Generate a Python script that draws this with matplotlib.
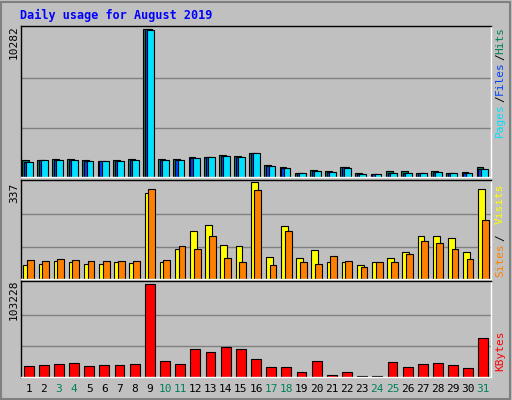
import matplotlib
matplotlib.use("Agg")
import matplotlib.pyplot as plt
from matplotlib.patches import Rectangle

days = list(range(1, 32))
weekend = [3, 4, 10, 11, 17, 18, 24, 25, 31]
hits = [1210,1210,1280,1280,1210,1140,1210,1280,10282,1280,1280,1420,1420,1560,1490,1700,860,720,300,510,440,670,300,230,440,440,300,440,300,370,670]
files = [1070,1210,1210,1210,1140,1140,1140,1210,10282,1210,1210,1350,1420,1490,1420,1700,790,650,300,440,370,670,230,230,300,300,300,370,300,300,580]
pages = [1050,1190,1190,1190,1120,1120,1120,1190,10200,1190,1190,1330,1400,1470,1400,1680,770,630,290,430,360,650,220,220,290,290,290,360,290,290,570]
sites = [48,51,62,59,51,51,59,55,300,59,103,165,187,117,114,337,77,183,73,99,59,59,48,59,73,95,150,150,143,95,311]
visits = [66,62,70,66,62,62,62,62,311,66,114,103,150,73,59,308,48,168,59,51,81,62,40,59,59,88,132,125,103,70,205]
kbytes = [11680,12810,13940,15070,11680,12810,12810,13940,103228,17330,13940,30890,27500,33150,30890,19590,10550,10550,6030,17330,2640,6030,1500,1500,16200,10550,13940,15070,12810,9420,43320]

W, H = 512, 400
fig = plt.figure(figsize=(W/100, H/100), dpi=100)
fig.patch.set_facecolor("#C0C0C0")
fig.patches.append(Rectangle((1/W, 1/H), 1-3/W, 1-3/H, transform=fig.transFigure,
                             fill=False, edgecolor="#808080", lw=1.5))
mono = "DejaVu Sans Mono"

def mkax(y0, y1):
    ax = fig.add_axes([21/W, 1-y1/H, 470/W, (y1-y0)/H])
    ax.set_facecolor("#C0C0C0")
    ax.set_xlim(0.5, 31.5)
    ax.set_xticks([]); ax.set_yticks([])
    for s in ax.spines.values():
        s.set_color("black"); s.set_linewidth(1)
    ax.spines["bottom"].set_color("white"); ax.spines["right"].set_color("white")
    return ax

ec = dict(edgecolor="black", linewidth=0.8)
# top panel
ax1 = mkax(26, 177)
m1 = 10282
ax1.set_ylim(0, m1*1.02)
for g in (m1/3, 2*m1/3):
    ax1.axhline(g, color="#808080", lw=1, zorder=0)
x = [d for d in days]
ax1.bar([d-0.22 for d in x], hits, width=0.45, color="#00805C", **ec)
ax1.bar([d-0.1 for d in x], files, width=0.45, color="#0040FF", **ec)
ax1.bar([d+0.05 for d in x], pages, width=0.45, color="#00E0FF", **ec)

ax2 = mkax(180, 279)
m2 = 337
ax2.set_ylim(0, m2*1.02)
for g in (m2/3, 2*m2/3):
    ax2.axhline(g, color="#808080", lw=1, zorder=0)
ax2.bar([d-0.12 for d in x], sites, width=0.45, color="#FFFF00", **ec)
ax2.bar([d+0.12 for d in x], visits, width=0.45, color="#FF8000", **ec)

ax3 = mkax(281, 377)
m3 = 103228
ax3.set_ylim(0, m3*1.03)
for g in (m3/3, 2*m3/3):
    ax3.axhline(g, color="#808080", lw=1, zorder=0)
ax3.bar(x, kbytes, width=0.65, color="#FF0000", **ec)

for d in days:
    ax3.text(d, -0.12, str(d), transform=ax3.get_xaxis_transform(), ha="center", va="center",
             fontsize=8, family=mono, color="#00805C" if d in weekend else "black")

fig.text(20/W, 1-15/H, "Daily usage for August 2019", color="#0000FF", fontsize=8.5,
         family=mono, fontweight="bold", ha="left", va="center")

def vl(xp, yp, s, c):
    fig.text(xp/W, 1-yp/H, s, rotation=90, color=c, fontsize=8, family=mono, ha="center", va="center")

vl(14, 42, "10282", "black")
vl(14, 193, "337", "black")
vl(14, 300, "103228", "black")
vl(500, 40, "Hits", "#00805C")
vl(500, 57, "/", "black")
vl(500, 78, "Files", "#0040FF")
vl(500, 99, "/", "black")
vl(500, 120, "Pages", "#00E0FF")
vl(500, 204, "Visits", "#FFFF00")
vl(500, 238, "/", "black")
vl(500, 260, "Sites", "#FF8000")
vl(500, 351, "KBytes", "#FF0000")

fig.savefig("out.png", dpi=100, facecolor=fig.get_facecolor())
